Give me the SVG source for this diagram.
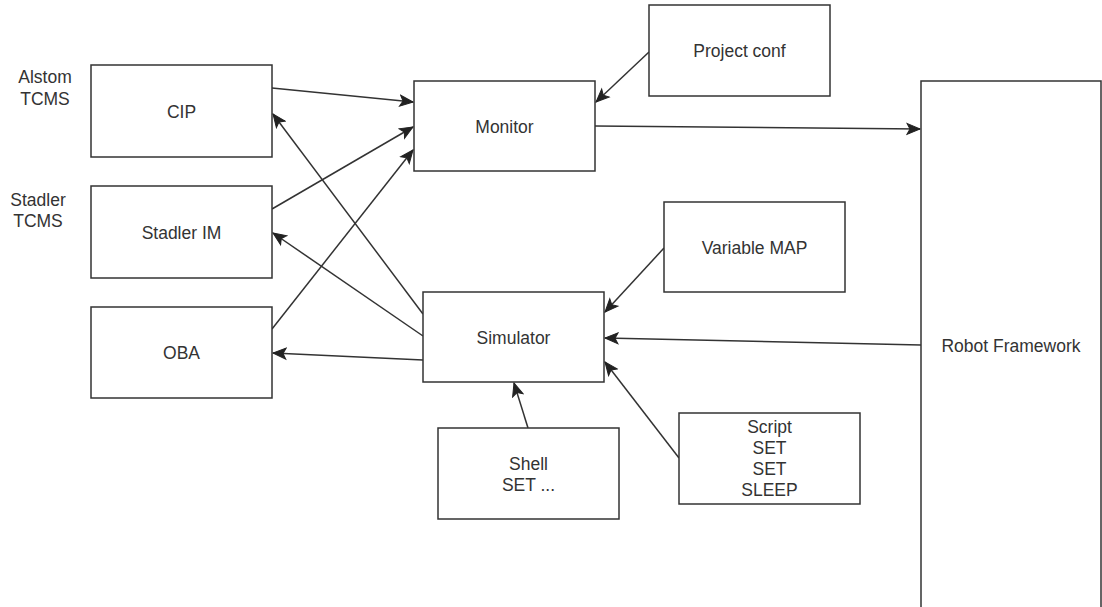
<svg xmlns="http://www.w3.org/2000/svg" width="1102" height="607" viewBox="0 0 1102 607">
  <style>
    .box { fill: #ffffff; stroke: #333333; stroke-width: 1.5; }
    .lbl { font-family: "Liberation Sans", Arial, sans-serif; font-size: 17.5px; fill: #333333; text-anchor: middle; }
    .edge { fill: none; stroke: #333333; stroke-width: 1.5; marker-end: url(#arrow); }
  </style>
  <defs>
    <marker id="arrow" markerUnits="userSpaceOnUse" markerWidth="16" markerHeight="14" viewBox="-14 -7 16 14" refX="0" refY="0" orient="auto">
      <path d="M0,0 L-13,-5.5 L-10,0 L-13,5.5 Z" fill="#222222" stroke="#222222" stroke-width="1" stroke-linejoin="miter"/>
    </marker>
  </defs>
  <rect width="1102" height="607" fill="#ffffff"/>

  <g id="label-alstom">
    <text class="lbl" x="45" y="83">Alstom</text>
    <text class="lbl" x="45" y="105">TCMS</text>
  </g>
  <g id="label-stadler">
    <text class="lbl" x="38" y="206">Stadler</text>
    <text class="lbl" x="38" y="227">TCMS</text>
  </g>

  <g id="connectors">
    <path class="edge" d="M272,88 L413,102"/>
    <path class="edge" d="M272,209 L413,127"/>
    <path class="edge" d="M272,329 L413,150"/>
    <path class="edge" d="M423,314 L273,114"/>
    <path class="edge" d="M423,336 L273,233"/>
    <path class="edge" d="M423,360 L273,353"/>
    <path class="edge" d="M649,52 L596,102"/>
    <path class="edge" d="M595,126 L920,129"/>
    <path class="edge" d="M664,248 L605,312"/>
    <path class="edge" d="M921,345 L605,338"/>
    <path class="edge" d="M528,428 L514,383"/>
    <path class="edge" d="M679,458 L605,362"/>
  </g>

  <g id="cip">
    <rect class="box" x="91" y="65" width="181" height="92"/>
    <text class="lbl" x="181.5" y="117.5">CIP</text>
  </g>
  <g id="stadler-im">
    <rect class="box" x="91" y="186" width="181" height="92"/>
    <text class="lbl" x="181.5" y="238.5">Stadler IM</text>
  </g>
  <g id="oba">
    <rect class="box" x="91" y="307" width="181" height="91"/>
    <text class="lbl" x="181.5" y="359">OBA</text>
  </g>
  <g id="monitor">
    <rect class="box" x="414" y="81" width="181" height="90"/>
    <text class="lbl" x="504.5" y="132.5">Monitor</text>
  </g>
  <g id="project-conf">
    <rect class="box" x="649" y="5" width="181" height="91"/>
    <text class="lbl" x="739.5" y="57">Project conf</text>
  </g>
  <g id="variable-map">
    <rect class="box" x="664" y="202" width="181" height="90"/>
    <text class="lbl" x="754.5" y="253.5">Variable MAP</text>
  </g>
  <g id="simulator">
    <rect class="box" x="423" y="292" width="181" height="90"/>
    <text class="lbl" x="513.5" y="343.5">Simulator</text>
  </g>
  <g id="shell">
    <rect class="box" x="438" y="428" width="181" height="91"/>
    <text class="lbl" x="528.5" y="470">Shell</text>
    <text class="lbl" x="528.5" y="491">SET ...</text>
  </g>
  <g id="script">
    <rect class="box" x="679" y="413" width="181" height="91"/>
    <text class="lbl" x="769.5" y="433">Script</text>
    <text class="lbl" x="769.5" y="454">SET</text>
    <text class="lbl" x="769.5" y="475">SET</text>
    <text class="lbl" x="769.5" y="496">SLEEP</text>
  </g>
  <g id="robot-framework">
    <rect class="box" x="921" y="81" width="180" height="540"/>
    <text class="lbl" x="1011" y="351.5">Robot Framework</text>
  </g>
</svg>
